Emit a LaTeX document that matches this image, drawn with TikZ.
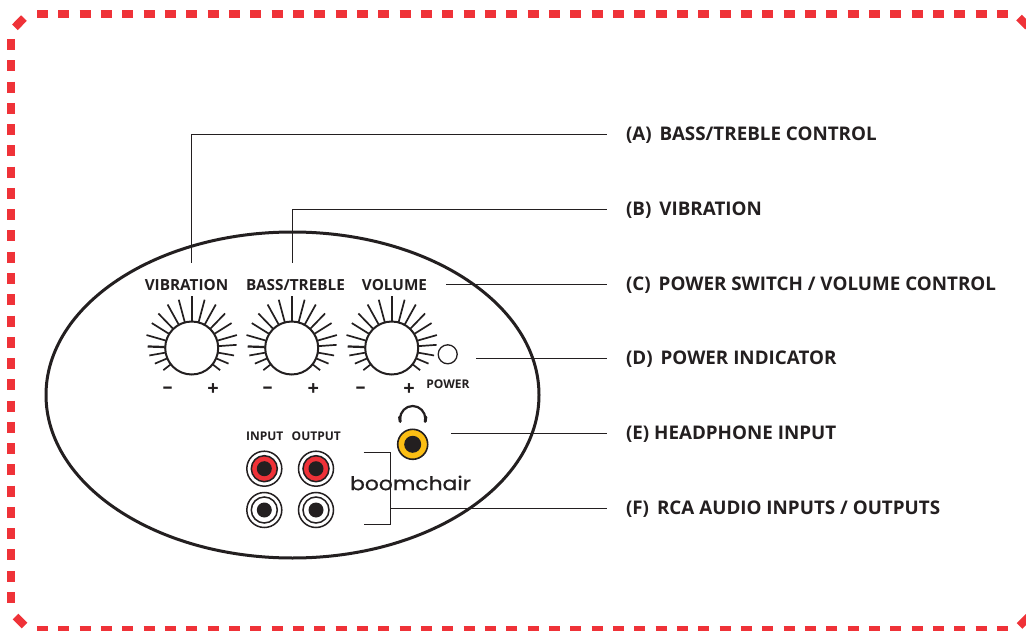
\documentclass[tikz,border=0pt]{standalone}
\usepackage{xcolor}
\usepackage{fontspec}
\setmainfont{Open Sans}
\newfontfamily\logofont[FakeStretch=1.15,FakeBold=0.8]{Poppins}
\definecolor{ink}{RGB}{35,31,32}
\definecolor{dashred}{RGB}{239,50,56}
\definecolor{jackyellow}{RGB}{252,190,20}
\tikzset{
    border/.style={draw=dashred, line width=8pt},
    body/.style={draw=ink, line width=3pt},
    leader/.style={draw=ink, line width=0.9pt},
    knob/.style={circle, draw=ink, fill=white, line width=2pt, minimum size=53pt, inner sep=0pt},
    tick/.style={draw=ink, line width=1.7pt},
    callout/.style={anchor=west, inner xsep=19pt, inner ysep=0pt, outer sep=0pt, text height=12.4pt, text depth=0pt, font=\fontsize{18.8}{20}\bfseries, text=ink},
    panellabel/.style={font=\fontsize{15.3}{17}\bfseries, text=ink, inner sep=0pt},
    smalllabel/.style={font=\fontsize{12}{13}\bfseries, text=ink, inner sep=0pt},
    signlabel/.style={font=\fontsize{20}{20}\bfseries, text=ink, inner sep=0pt}
}
\begin{document}
\begin{tikzpicture}[x=1pt,y=-1pt]
\useasboundingbox (0,0) rectangle (1026,631);
% dashed frame
\draw[border, dash pattern=on 11pt off 10.33pt] (37,14) -- (1009,14);
\draw[border, dash pattern=on 11pt off 10.33pt] (37,630) -- (1009,630);
\draw[border, dash pattern=on 11pt off 10.27pt] (11,39) -- (11,604);
\draw[border] (14.9,27.3) -- (23.9,18.1);
\draw[border] (15.5,616.5) -- (24.5,625.5);
\draw[border] (1019,17.5) -- (1028,26.5);
\draw[border] (1019.5,626) -- (1028.5,617);
% panel
\draw[body] (292.5,395) ellipse [x radius=246.5pt, y radius=163pt];
\node[panellabel] (vibtext) at (186.5,285) {VIBRATION};
\node[panellabel] (basstext) at (295.5,285) {BASS/TREBLE};
\node[panellabel] (voltext) at (394.5,285) {VOLUME};
% knobs
\foreach \k/\kx/\mx/\px in {vib/191.7/167.5/213, bass/291.7/267.5/313.3, vol/391.7/360.7/409}{
    \node[knob] (\k) at (\kx,348) {};
    \foreach \a/\r in {75/50,61/49.7,46/48,32/47,16/47,4/45,-10/43,-23/40,-38/36,
        105/50,119/49.7,134/48,148/47,164/47,190/43,203/40,218/36}
        \draw[tick, shift={(\k.center)}] (\a:27pt) -- (\a:\r pt);
    \draw[tick, line width=2.2pt, shift={(\k.center)}] (90:27pt) -- (90:51.7pt);
    \draw[tick, line width=2.2pt, shift={(\k.center)}] (178:27pt) -- (178:44pt);
    \node[signlabel] (\k minus) at (\mx,390.5) {–};
    \node[signlabel] (\k plus) at (\px,390) {+};
}
\node[circle, draw=ink, line width=1.3pt, minimum size=19pt, inner sep=0pt] (powerlamp) at (447.7,354.3) {};
\node[smalllabel] (powertext) at (448,384.3) {POWER};
% jacks
\node[smalllabel] (inputtext) at (264.8,436.7) {INPUT};
\node[smalllabel] (outputtext) at (316.3,436.7) {OUTPUT};
\foreach \n/\jx/\jy/\jc in {inred/264.3/468.7/dashred, outred/316/468.7/dashred, inwhite/264.3/510/white, outwhite/316/510/white}{
    \node[circle, draw=ink, fill=white, line width=1.5pt, minimum size=35pt, inner sep=0pt] (\n) at (\jx,\jy) {};
    \node[circle, draw=ink, fill=\jc, line width=1.5pt, minimum size=26pt, inner sep=0pt] at (\n.center) {};
    \node[circle, fill=ink, minimum size=15pt, inner sep=0pt] at (\n.center) {};
}
\node[circle, draw=ink, fill=jackyellow, line width=1.6pt, minimum size=30pt, inner sep=0pt] (phonejack) at (412.7,444.3) {};
\node[circle, fill=ink, minimum size=17pt, inner sep=0pt] at (phonejack.center) {};
% headphones
\draw[ink, line width=2.2pt, line cap=round] (400,419) arc[start angle=180, end angle=0, x radius=12.7pt, y radius=13pt];
\draw[ink, line width=3pt, line cap=round] (399.6,417) -- (400.2,421.5);
\draw[ink, line width=3pt, line cap=round] (425.8,417) -- (425.2,421.5);
\node[font=\logofont\fontsize{19}{20}\selectfont, text=ink, inner sep=0pt] (logo) at (410.5,483) {boomchair};
% callouts
\node[callout] (labelA) at (607,134) {(A)\, BASS/TREBLE CONTROL};
\node[callout] (labelB) at (607,209) {(B)\, VIBRATION};
\node[callout] (labelC) at (607,284) {(C)\, POWER SWITCH / VOLUME CONTROL};
\node[callout] (labelD) at (607,358) {(D)\, POWER INDICATOR};
\node[callout] (labelE) at (607,433) {(E) HEADPHONE INPUT};
\node[callout] (labelF) at (607,508) {(F)\, RCA AUDIO INPUTS / OUTPUTS};
\coordinate (endA) at (191,263);
\coordinate (endB) at (292,263);
\coordinate (endC) at (446,284);
\coordinate (endD) at (476,358);
\coordinate (endE) at (451,433);
\coordinate (bracktop) at (363.5,452.7);
\coordinate (brackmid) at (390.7,508);
\coordinate (brackbot) at (363.5,524);
\draw[leader] (endA) |- (labelA.west);
\draw[leader] (endB) |- (labelB.west);
\draw[leader] (endC) -- (labelC.west);
\draw[leader] (endD) -- (labelD.west);
\draw[leader] (endE) -- (labelE.west);
\draw[leader] (bracktop) -| (brackmid) |- (brackbot);
\draw[leader] (brackmid) -- (labelF.west);
\end{tikzpicture}
\end{document}
